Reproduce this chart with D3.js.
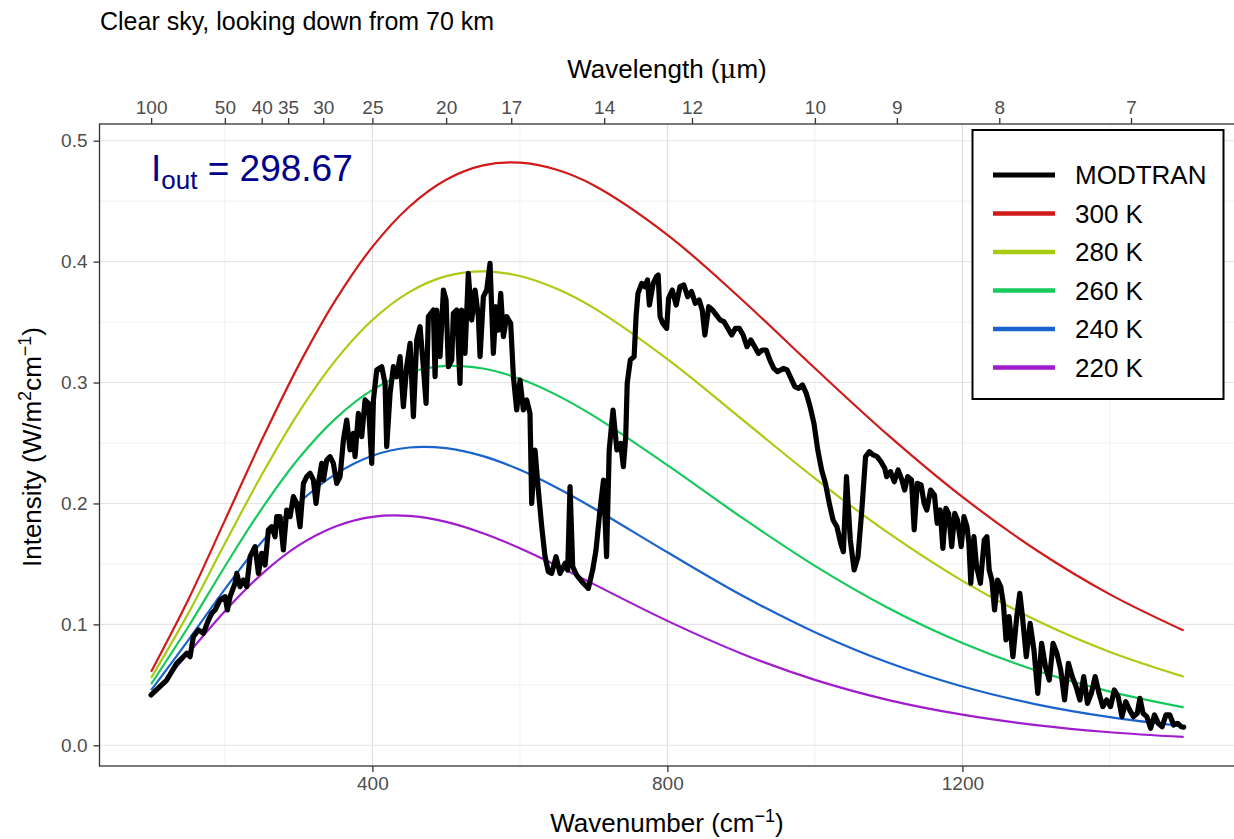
<!DOCTYPE html>
<html>
<head>
<meta charset="utf-8">
<script src="https://cdn.jsdelivr.net/npm/d3@7"></script>
<style>
  html, body { margin: 0; padding: 0; background: #ffffff; }
  svg { display: block; font-family: "Liberation Sans", Arial, Helvetica, sans-serif; }
</style>
</head>
<body>
<svg id="chart" width="1234" height="839"></svg>
<script>
// ---------------- DATA ----------------
const chartTitle = "Clear sky, looking down from 70 km";
const annotationValue = "298.67";

const xTicks = [400, 800, 1200];
const xMinorTicks = [200, 600, 1000, 1400];
const yTicks = [0.0, 0.1, 0.2, 0.3, 0.4, 0.5];
const yMinorTicks = [0.05, 0.15, 0.25, 0.35, 0.45];
const wavelengthTicks = [100, 50, 40, 35, 30, 25, 20, 17, 14, 12, 10, 9, 8, 7];

const seriesNames = ["MODTRAN", "300 K", "280 K", "260 K", "240 K", "220 K"];
const seriesColors = ["#000000", "#d11a1a", "#a8cc12", "#17c95c", "#1a63cc", "#a01ccc"];

// Blackbody reference curves (W/m^2/cm^-1)
const bbWavenumber = [100, 150, 200, 250, 300, 350, 400, 450, 500, 550, 600, 650, 700, 800, 900, 1000, 1100, 1200, 1300, 1400, 1500];
const bb300 = [0.0608, 0.1199, 0.1860, 0.2524, 0.3142, 0.3681, 0.4122, 0.4454, 0.4677, 0.4796, 0.4819, 0.4760, 0.4632, 0.4222, 0.3691, 0.3118, 0.2561, 0.2054, 0.1615, 0.1248, 0.0949];
const bb280 = [0.0557, 0.1087, 0.1668, 0.2237, 0.2752, 0.3183, 0.3517, 0.3748, 0.3880, 0.3920, 0.3881, 0.3775, 0.3617, 0.3193, 0.2702, 0.2208, 0.1754, 0.1360, 0.1034, 0.0772, 0.0568];
const bb260 = [0.0506, 0.0976, 0.1479, 0.1956, 0.2372, 0.2702, 0.2939, 0.3082, 0.3137, 0.3116, 0.3031, 0.2896, 0.2724, 0.2317, 0.1887, 0.1484, 0.1134, 0.0846, 0.0618, 0.0444, 0.0314];
const bb240 = [0.0456, 0.0866, 0.1292, 0.1682, 0.2004, 0.2243, 0.2395, 0.2463, 0.2457, 0.2391, 0.2278, 0.2130, 0.1961, 0.1596, 0.1243, 0.0935, 0.0682, 0.0486, 0.0339, 0.0233, 0.0157];
const bb220 = [0.0405, 0.0758, 0.1109, 0.1416, 0.1653, 0.1810, 0.1889, 0.1897, 0.1848, 0.1754, 0.1630, 0.1486, 0.1333, 0.1029, 0.0760, 0.0541, 0.0374, 0.0253, 0.0167, 0.0108, 0.0069];

// MODTRAN outgoing spectrum
const modtranWavenumber = [
  100, 121.2, 134.7, 148.3, 152.8, 157.3, 164.1, 170.9, 177.7, 182.2, 186.7, 193.5, 200.3, 203.4, 207.0, 213.8, 216.1, 220.6, 225.1, 229.6,
  234.2, 240.9, 245.5, 250.0, 254.5, 259.0, 263.5, 268.0, 270.3, 274.8, 279.3, 283.9, 288.4, 292.9, 297.4, 301.9, 306.5, 311.0, 315.5, 320.0,
  323.6, 326.8, 331.3, 333.6, 338.1, 342.6, 347.1, 351.6, 356.2, 360.7, 365.2, 369.7, 374.2, 376.5, 381.0, 385.5, 390.1, 394.6, 399.1, 401.4,
  405.9, 412.7, 417.2, 419.4, 424.0, 428.5, 433.0, 437.5, 442.0, 446.5, 451.1, 455.6, 460.1, 464.6, 469.1, 472.8, 475.9, 482.7, 485.0, 487.2,
  491.7, 496.3, 499.9, 503.0, 507.6, 509.8, 514.3, 518.8, 521.1, 525.6, 530.1, 534.7, 539.2, 543.7, 546.0, 550.5, 555.0, 559.5, 564.0, 567.7,
  570.8, 574.0, 577.6, 582.1, 587.5, 591.2, 595.7, 600.2, 604.7, 609.2, 613.7, 616.0, 620.5, 625.0, 629.6, 634.1, 638.6, 643.1, 649.0, 654.4,
  661.2, 664.8, 668.0, 671.6, 677.0, 686.0, 692.8, 698.7, 703.2, 708.6, 713.4, 717.5, 721.1, 726.3, 731.5, 736.7, 740.3, 743.5, 745.5, 749.7,
  754.9, 757.5, 760.1, 765.2, 769.4, 773.0, 775.6, 780.8, 785.0, 787.5, 790.1, 793.8, 799.0, 801.6, 806.7, 811.9, 817.1, 822.3, 827.5, 832.7,
  837.9, 843.1, 847.2, 850.8, 856.0, 861.2, 866.4, 871.6, 876.8, 882.0, 887.2, 892.3, 897.5, 902.7, 907.9, 913.1, 918.3, 923.5, 928.7, 933.9,
  939.0, 944.2, 949.4, 957.2, 962.4, 967.6, 972.8, 977.9, 983.1, 988.3, 993.5, 998.7, 1003.9, 1009.1, 1014.3, 1019.5, 1024.6, 1029.8, 1035.0, 1038.6,
  1042.8, 1048.0, 1053.2, 1058.4, 1063.6, 1068.7, 1073.9, 1079.1, 1084.3, 1089.5, 1094.7, 1097.3, 1102.5, 1107.6, 1112.8, 1118.0, 1121.7, 1125.8, 1131.0, 1134.6,
  1138.8, 1144.0, 1148.1, 1151.7, 1156.9, 1162.1, 1165.8, 1169.9, 1173.5, 1177.6, 1181.3, 1185.5, 1189.6, 1193.3, 1198.4, 1202.1, 1206.2, 1208.8, 1211.4, 1215.6,
  1219.2, 1224.4, 1229.6, 1233.2, 1236.3, 1239.9, 1243.6, 1247.7, 1251.9, 1255.5, 1259.1, 1263.3, 1268.5, 1273.7, 1277.8, 1281.4, 1286.6, 1291.8, 1297.0, 1302.2,
  1307.4, 1312.6, 1317.8, 1323.0, 1328.1, 1333.3, 1338.5, 1343.7, 1348.9, 1354.1, 1359.3, 1364.5, 1369.6, 1374.8, 1380.0, 1385.2, 1390.4, 1395.6, 1400.8, 1406.0,
  1411.2, 1416.3, 1421.5, 1426.7, 1431.9, 1437.1, 1440.7, 1444.9, 1450.0, 1455.2, 1460.4, 1465.6, 1470.8, 1476.0, 1481.2, 1486.4, 1491.6, 1496.7, 1500
];
const modtranIntensity = [
  0.0416, 0.0540, 0.0678, 0.0761, 0.0733, 0.0899, 0.0954, 0.0926, 0.1036, 0.1092, 0.1119, 0.1202, 0.1229, 0.1119, 0.1229, 0.1340, 0.1422, 0.1312, 0.1367, 0.1312,
  0.1560, 0.1643, 0.1422, 0.1588, 0.1491, 0.1781, 0.1808, 0.1725, 0.1891, 0.1891, 0.1615, 0.1946, 0.1891, 0.2056, 0.2001, 0.1808, 0.2166, 0.2222, 0.2249, 0.2194,
  0.2001, 0.2166, 0.2332, 0.2194, 0.2359, 0.2387, 0.2332, 0.2166, 0.2222, 0.2525, 0.2690, 0.2442, 0.2580, 0.2387, 0.2745, 0.2552, 0.2856, 0.2828, 0.2332, 0.2856,
  0.3104, 0.3131, 0.2993, 0.2470, 0.2911, 0.3131, 0.3048, 0.3214, 0.2800, 0.3131, 0.3324, 0.2718, 0.3352, 0.3462, 0.3131, 0.2828, 0.3545, 0.3600, 0.3048, 0.3600,
  0.3214, 0.3765, 0.3683, 0.3131, 0.3186, 0.3572, 0.3600, 0.2993, 0.3600, 0.3241, 0.3903, 0.3517, 0.3765, 0.3545, 0.3214, 0.3710, 0.3765, 0.3986, 0.3241, 0.3627,
  0.3434, 0.3738, 0.3379, 0.3545, 0.3489, 0.3048, 0.2773, 0.3021, 0.2773, 0.2856, 0.2745, 0.2001, 0.2442, 0.2111, 0.1808, 0.1560, 0.1436, 0.1422, 0.1560, 0.1422,
  0.1505, 0.1450, 0.2139, 0.1477, 0.1408, 0.1340, 0.1298, 0.1450, 0.1615, 0.1946, 0.2194, 0.1560, 0.2442, 0.2773, 0.2442, 0.2497, 0.2304, 0.2552, 0.2993, 0.3186,
  0.3214, 0.3545, 0.3738, 0.3820, 0.3793, 0.3848, 0.3641, 0.3820, 0.3875, 0.3889, 0.3545, 0.3489, 0.3448, 0.3696, 0.3765, 0.3641, 0.3793, 0.3807, 0.3710, 0.3752,
  0.3655, 0.3682, 0.3600, 0.3393, 0.3627, 0.3600, 0.3558, 0.3517, 0.3503, 0.3448, 0.3393, 0.3448, 0.3448, 0.3393, 0.3297, 0.3352, 0.3297, 0.3241, 0.3269, 0.3269,
  0.3186, 0.3117, 0.3090, 0.3117, 0.3104, 0.3035, 0.2966, 0.2952, 0.2980, 0.2911, 0.2800, 0.2663, 0.2442, 0.2277, 0.2166, 0.2001, 0.1863, 0.1808, 0.1670, 0.1601,
  0.2222, 0.1698, 0.1450, 0.1560, 0.1946, 0.2387, 0.2428, 0.2401, 0.2387, 0.2346, 0.2291, 0.2222, 0.2263, 0.2180, 0.2277, 0.2194, 0.2111, 0.2222, 0.2194, 0.1781,
  0.2166, 0.2153, 0.2001, 0.1946, 0.2111, 0.2070, 0.1836, 0.1946, 0.1629, 0.1960, 0.1918, 0.1643, 0.1918, 0.1863, 0.1643, 0.1891, 0.1808, 0.1670, 0.1340, 0.1725,
  0.1477, 0.1340, 0.1698, 0.1725, 0.1450, 0.1367, 0.1119, 0.1367, 0.1312, 0.1174, 0.0871, 0.1064, 0.0733, 0.1064, 0.1257, 0.1064, 0.0733, 0.1009, 0.0788, 0.0430,
  0.0843, 0.0650, 0.0540, 0.0843, 0.0761, 0.0623, 0.0375, 0.0678, 0.0568, 0.0485, 0.0375, 0.0568, 0.0347, 0.0430, 0.0568, 0.0430, 0.0320, 0.0375, 0.0320, 0.0458,
  0.0402, 0.0237, 0.0361, 0.0292, 0.0237, 0.0265, 0.0389, 0.0265, 0.0237, 0.0141, 0.0251, 0.0182, 0.0154, 0.0251, 0.0251, 0.0168, 0.0182, 0.0154, 0.0150
];

// ---------------- LAYOUT ----------------
const svg = d3.select("#chart");
const panel = { left: 99.5, right: 1235.3, top: 124, bottom: 766 };
const FONT = '"Liberation Sans", Arial, Helvetica, sans-serif';

const x = d3.scaleLinear().domain([30, 1570]).range([panel.left, panel.right]);
const y = d3.scaleLinear().domain([-0.01712, 0.51381]).range([panel.bottom, panel.top]);

svg.append("defs").append("clipPath").attr("id", "clip")
  .append("rect").attr("x", panel.left).attr("y", panel.top)
  .attr("width", panel.right - panel.left).attr("height", panel.bottom - panel.top);

svg.append("rect").attr("x", panel.left).attr("y", panel.top)
  .attr("width", panel.right - panel.left).attr("height", panel.bottom - panel.top)
  .attr("fill", "#ffffff");

// grid
const grid = svg.append("g");
grid.selectAll(".vminor").data(xMinorTicks).join("line")
  .attr("x1", d => x(d)).attr("x2", d => x(d)).attr("y1", panel.top).attr("y2", panel.bottom)
  .attr("stroke", "#ededed").attr("stroke-width", 0.8);
grid.selectAll(".hminor").data(yMinorTicks).join("line")
  .attr("y1", d => y(d)).attr("y2", d => y(d)).attr("x1", panel.left).attr("x2", panel.right)
  .attr("stroke", "#ededed").attr("stroke-width", 0.8);
grid.selectAll(".vmajor").data(xTicks).join("line")
  .attr("x1", d => x(d)).attr("x2", d => x(d)).attr("y1", panel.top).attr("y2", panel.bottom)
  .attr("stroke", "#dedede").attr("stroke-width", 1.1);
grid.selectAll(".hmajor").data(yTicks).join("line")
  .attr("y1", d => y(d)).attr("y2", d => y(d)).attr("x1", panel.left).attr("x2", panel.right)
  .attr("stroke", "#e4e4e4").attr("stroke-width", 1.1);

// curves
const plotG = svg.append("g").attr("clip-path", "url(#clip)");
const bbSeries = [bb300, bb280, bb260, bb240, bb220];
const bbLine = d3.line().x((d, i) => x(bbWavenumber[i])).y(d => y(d)).curve(d3.curveCatmullRom.alpha(0.5));
bbSeries.forEach((s, k) => {
  plotG.append("path").datum(s).attr("d", bbLine)
    .attr("fill", "none").attr("stroke", seriesColors[k + 1]).attr("stroke-width", 2.2);
});
const modLine = d3.line().x((d, i) => x(modtranWavenumber[i])).y(d => y(d)).curve(d3.curveLinear);
plotG.append("path").datum(modtranIntensity).attr("d", modLine)
  .attr("fill", "none").attr("stroke", "#000000").attr("stroke-width", 5.2)
  .attr("stroke-linejoin", "round").attr("stroke-linecap", "round");

// panel border
svg.append("rect").attr("x", panel.left).attr("y", panel.top)
  .attr("width", panel.right - panel.left).attr("height", panel.bottom - panel.top)
  .attr("fill", "none").attr("stroke", "#333333").attr("stroke-width", 1.3);

// axes
function styleAxis(g) {
  g.select(".domain").remove();
  g.selectAll(".tick line").attr("stroke", "#333333").attr("stroke-width", 1.3);
  g.selectAll(".tick text").attr("fill", "#4d4d4d").style("font-family", FONT).style("font-size", "19px");
}
svg.append("g").attr("transform", `translate(0,${panel.bottom})`)
  .call(d3.axisBottom(x).tickValues(xTicks).tickSize(6).tickPadding(5).tickFormat(d3.format("d")))
  .call(styleAxis);
svg.append("g").attr("transform", `translate(${panel.left},0)`)
  .call(d3.axisLeft(y).tickValues(yTicks).tickSize(6).tickPadding(6).tickFormat(d3.format(".1f")))
  .call(styleAxis);
svg.append("g").attr("transform", `translate(0,${panel.top})`)
  .call(d3.axisTop(x).tickValues(wavelengthTicks.map(l => 10000 / l)).tickSize(6).tickPadding(4)
    .tickFormat((d, i) => String(wavelengthTicks[i])))
  .call(styleAxis);

// titles
svg.append("text").attr("x", 100).attr("y", 30).text(chartTitle)
  .style("font-family", FONT).style("font-size", "25px").attr("fill", "#000");

const xt = svg.append("text").attr("x", 667).attr("y", 832).attr("text-anchor", "middle")
  .style("font-family", FONT).style("font-size", "26px").attr("fill", "#000");
xt.append("tspan").text("Wavenumber (cm");
xt.append("tspan").text("\u22121").attr("dy", -10).style("font-size", "18px");
xt.append("tspan").text(")").attr("dy", 10);

const tt = svg.append("text").attr("x", 667).attr("y", 78).attr("text-anchor", "middle")
  .style("font-family", FONT).style("font-size", "26px").attr("fill", "#000");
tt.append("tspan").text("Wavelength (");
tt.append("tspan").text("\u03bc").style("font-family", '"DejaVu Serif", "Liberation Serif", serif');
tt.append("tspan").text("m)");

const yt = svg.append("text").attr("transform", `translate(41,${(panel.top + panel.bottom) / 2 + 2}) rotate(-90)`)
  .attr("text-anchor", "middle").style("font-family", FONT).style("font-size", "26px").attr("fill", "#000");
yt.append("tspan").text("Intensity (W/m");
yt.append("tspan").text("2").attr("dy", -10).style("font-size", "18px");
yt.append("tspan").text("cm").attr("dy", 10);
yt.append("tspan").text("\u22121").attr("dy", -10).style("font-size", "18px");
yt.append("tspan").text(")").attr("dy", 10);

// annotation
const ann = svg.append("text").attr("x", 151).attr("y", 181)
  .style("font-family", FONT).style("font-size", "37px").attr("fill", "#00008b");
ann.append("tspan").text("I");
ann.append("tspan").text("out").attr("dy", 8).style("font-size", "26px");
ann.append("tspan").text(" = ").attr("dy", -8);
ann.append("tspan").text(annotationValue);

// legend
const lg = svg.append("g");
lg.append("rect").attr("x", 972.5).attr("y", 130).attr("width", 251).attr("height", 269)
  .attr("fill", "#fff").attr("stroke", "#000").attr("stroke-width", 2);
seriesNames.forEach((name, i) => {
  const yy = 175 + i * 38.5;
  lg.append("line").attr("x1", 993).attr("x2", 1055).attr("y1", yy).attr("y2", yy)
    .attr("stroke", seriesColors[i]).attr("stroke-width", i === 0 ? 5 : 4.4);
  lg.append("text").attr("x", 1075).attr("y", yy).attr("dy", "0.36em").text(name)
    .style("font-family", FONT).style("font-size", "26px").attr("fill", "#000");
});
</script>
</body>
</html>
